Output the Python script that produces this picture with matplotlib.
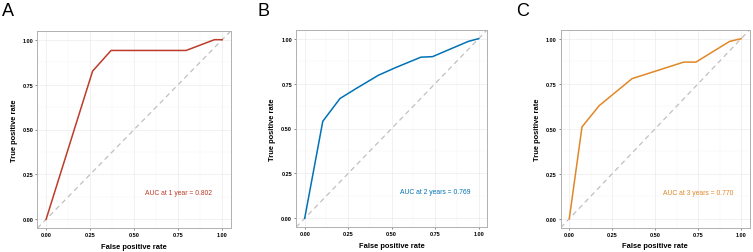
import matplotlib
matplotlib.use("Agg")
import matplotlib.pyplot as plt
import numpy as np

plt.rcParams["font.family"] = ["Liberation Sans", "DejaVu Sans"]

# ---- ROC curves ----
fpr_1y = [0.0, 0.264, 0.369, 0.795, 0.956, 1.0]
tpr_1y = [0.0, 0.825, 0.94, 0.94, 1.0, 1.0]

fpr_2y = [0.0, 0.104, 0.203, 0.30, 0.425, 0.525, 0.668, 0.735, 0.941, 1.0]
tpr_2y = [0.0, 0.54, 0.667, 0.725, 0.797, 0.84, 0.897, 0.9, 0.985, 1.0]

fpr_3y = [0.0, 0.074, 0.174, 0.365, 0.666, 0.737, 0.933, 1.0]
tpr_3y = [0.0, 0.51, 0.628, 0.778, 0.87, 0.87, 0.985, 1.0]

labels = ["AUC at 1 year = 0.802", "AUC at 2 years = 0.769", "AUC at 3 years = 0.770"]
letters = ["A", "B", "C"]
colors = ["#BC3C29", "#0072B5", "#E18727"]
ticks = [0.0, 0.25, 0.5, 0.75, 1.0]
tick_labels = ["0.00", "0.25", "0.50", "0.75", "1.00"]

W, H = 753, 253
fig = plt.figure(figsize=(W / 100, H / 100), dpi=100)

# axes boxes in pixels: left, top, right, bottom
boxes = [(37.3, 31.7, 231.0, 229.3), (296.0, 30.7, 487.3, 228.3), (560.7, 30.7, 749.7, 228.7)]
letter_x = [1.5, 257.5, 516.5]
curves = [(fpr_1y, tpr_1y), (fpr_2y, tpr_2y), (fpr_3y, tpr_3y)]

for i, ((l, t, r, b), (fx, ty)) in enumerate(zip(boxes, curves)):
    ax = fig.add_axes([l / W, 1 - b / H, (r - l) / W, (b - t) / H])
    ax.set_xlim(-0.05, 1.05)
    ax.set_ylim(-0.05, 1.05)
    ax.set_xticks(ticks)
    ax.set_yticks(ticks)
    ax.set_xticks([0.125, 0.375, 0.625, 0.875], minor=True)
    ax.set_yticks([0.125, 0.375, 0.625, 0.875], minor=True)
    ax.set_xticklabels(tick_labels, fontsize=4.0, fontweight="bold")
    ax.set_yticklabels(tick_labels, fontsize=4.0, fontweight="bold")
    ax.tick_params(which="major", length=1.6, width=0.4, color="#333333", pad=1.2)
    ax.tick_params(which="minor", length=0)
    ax.grid(which="major", color="#EBEBEB", lw=0.5)
    ax.grid(which="minor", color="#F4F4F4", lw=0.3)
    ax.set_axisbelow(True)
    for s in ax.spines.values():
        s.set_color("#B0B0B0")
        s.set_linewidth(0.7)
    ax.plot([-0.05, 1.05], [-0.05, 1.05], color="#C0C0C0", lw=0.9, ls=(0, (4, 3)))
    ax.plot(fx, ty, color=colors[i], lw=1.1)
    ax.text(0.75, 0.148, labels[i], color=colors[i], fontsize=4.9, ha="center", va="center")
    ax.set_xlabel("False positive rate", fontsize=5.4, fontweight="bold", labelpad=4.2)
    ax.set_ylabel("True positive rate", fontsize=5.4, fontweight="bold", labelpad=3.5)
    fig.text(letter_x[i] / W, 1 - 3.5 / H, letters[i], fontsize=13, ha="left", va="top")

fig.savefig("out.png", dpi=100)
